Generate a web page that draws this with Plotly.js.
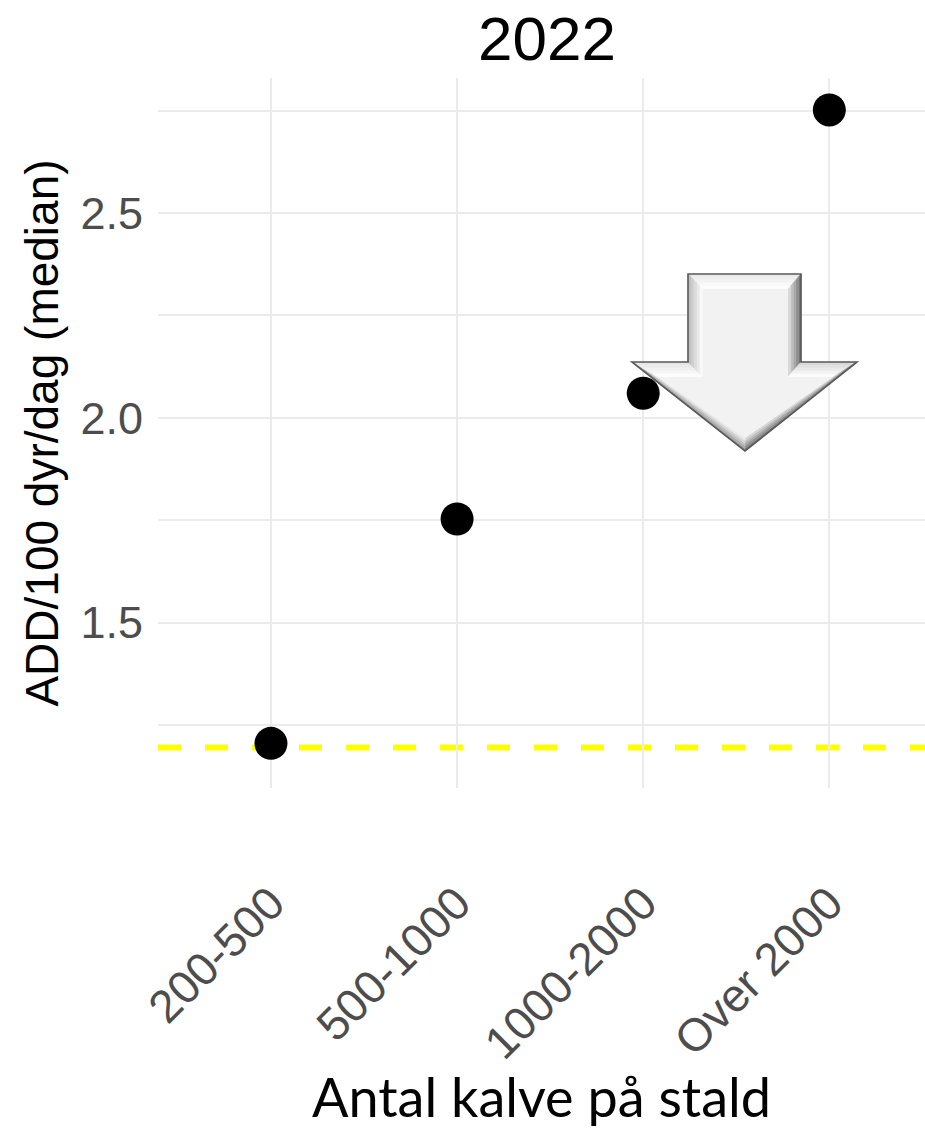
<!DOCTYPE html>
<html>
<head>
<meta charset="utf-8">
<script src="https://cdn.plot.ly/plotly-3.0.1.min.js"></script>
<style>html,body{margin:0;padding:0;background:#fff;}#chart{width:925px;height:1129px;}</style>
</head>
<body>
<div id="chart"></div>
<script>
// ---- data ----
const categories = ["200-500", "500-1000", "1000-2000", "Over 2000"];
const medianValues = [1.205, 1.753, 2.060, 2.752];
const referenceLine = 1.195;
const yTickVals = [1.5, 2.0, 2.5];
const yTickText = ["1.5", "2.0", "2.5"];
const yMinorVals = [1.25, 1.75, 2.25, 2.75];

// ---- layout geometry ----
const W = 925, H = 1129;
const M = {l: 158, r: 0, t: 78, b: 341};
const PW = W - M.l - M.r, PH = H - M.t - M.b;
function px(x) { return ((x - M.l) / PW).toFixed(5); }
function py(y) { return ((H - M.b - y) / PH).toFixed(5); }
function pt(p) { return px(p[0]) + ',' + py(p[1]); }
function poly(pts) { return 'M' + pts.map(pt).join(' L') + ' Z'; }
function lerp(a, b, t) { return [a[0] + (b[0] - a[0]) * t, a[1] + (b[1] - a[1]) * t]; }
function hex(c) { return parseInt(c, 16); }
function mix(c1, c2, t) {
  const a = [hex(c1.substr(1, 2)), hex(c1.substr(3, 2)), hex(c1.substr(5, 2))];
  const b = [hex(c2.substr(1, 2)), hex(c2.substr(3, 2)), hex(c2.substr(5, 2))];
  return 'rgb(' + a.map((v, i) => Math.round(v + (b[i] - v) * t)).join(',') + ')';
}

// decorative 3D arrow (pixel geometry)
const O = [[688, 274], [801, 274], [801, 362], [857, 362], [745, 451], [632, 362], [688, 362]];
const I = [[703, 289], [788, 289], [788, 377], [833, 377], [745, 438], [658, 377], [703, 377]];
const bevelCols = [
  ['#e6e6e6', '#ffffff'], // top
  ['#6a6a6a', '#e4e4e4'], // right shaft
  ['#d4d4d4', '#ffffff'], // head upper right
  ['#6a6a6a', '#e2e2e2'], // head lower right
  ['#8c8c8c', '#f4f4f4'], // head lower left
  ['#e2e2e2', '#ffffff'], // head upper left
  ['#b8b8b8', '#ffffff']  // left shaft
];
const arrowShapes = [];
const N = 5;
for (let e = 0; e < 7; e++) {
  const o1 = O[e], o2 = O[(e + 1) % 7], i1 = I[e], i2 = I[(e + 1) % 7];
  for (let s = 0; s < N; s++) {
    const t0 = s / N, t1 = (s + 1) / N;
    const a1 = lerp(o1, i1, t0), a2 = lerp(o2, i2, t0), b2 = lerp(o2, i2, t1), b1 = lerp(o1, i1, t1);
    const col = mix(bevelCols[e][0], bevelCols[e][1], (s + 0.5) / N);
    arrowShapes.push({type: 'path', xref: 'paper', yref: 'paper', layer: 'above',
      path: poly([a1, a2, b2, b1]), fillcolor: col, line: {width: 0.6, color: col}});
  }
}
arrowShapes.push({type: 'path', xref: 'paper', yref: 'paper', layer: 'above',
  path: poly(I), fillcolor: '#f2f2f2', line: {width: 0}});
arrowShapes.push({type: 'path', xref: 'paper', yref: 'paper', layer: 'above',
  path: poly(O), fillcolor: 'rgba(0,0,0,0)', line: {width: 1.6, color: '#5a5a5a'}});

const grid = '#ebebeb';
const trace = {
  type: 'scatter', mode: 'markers',
  x: categories, y: medianValues,
  marker: {color: '#000000', size: 33},
  hoverinfo: 'x+y', showlegend: false
};

const layout = {
  width: W, height: H,
  margin: M,
  paper_bgcolor: '#ffffff', plot_bgcolor: '#ffffff',
  title: {
    text: '2022',
    font: {family: 'Liberation Sans, Arial, sans-serif', size: 62, color: '#000000'},
    xref: 'paper', x: (547 - M.l) / PW, xanchor: 'center',
    yref: 'container', y: 1 - 38 / H, yanchor: 'middle'
  },
  xaxis: {
    type: 'category',
    range: [-0.607, 3.514],
    showgrid: true, gridcolor: grid, gridwidth: 2,
    zeroline: false, showline: false, ticks: '',
    tickangle: -45,
    tickfont: {family: 'Liberation Sans, Arial, sans-serif', size: 46, color: '#4d4d4d'},
    ticklabelstandoff: 78,
    automargin: false,
    title: {text: 'Antal kalve på stald', font: {family: 'Lato, Open Sans, sans-serif', size: 54, color: '#000000'}, standoff: 16}
  },
  yaxis: {
    range: [1.096, 2.830],
    tickmode: 'array', tickvals: yTickVals, ticktext: yTickText,
    showgrid: true, gridcolor: grid, gridwidth: 2,
    minor: {tickmode: 'array', tickvals: yMinorVals, showgrid: true, gridcolor: grid, gridwidth: 2, ticks: ''},
    zeroline: false, showline: false, ticks: '',
    tickfont: {family: 'Liberation Sans, Arial, sans-serif', size: 45, color: '#4d4d4d'},
    ticklabelstandoff: 14,
    automargin: false,
    title: {text: 'ADD/100 dyr/dag (median)', font: {family: 'Liberation Sans, Arial, sans-serif', size: 46, color: '#000000'}, standoff: 7}
  },
  shapes: [
    {type: 'line', xref: 'paper', x0: 0, x1: 1, yref: 'y', y0: referenceLine, y1: referenceLine,
     layer: 'between', line: {color: '#ffff00', width: 6, dash: '23px,24px'}}
  ].concat(arrowShapes)
};

Plotly.newPlot('chart', [trace], layout, {displayModeBar: false, staticPlot: true});
</script>
</body>
</html>
